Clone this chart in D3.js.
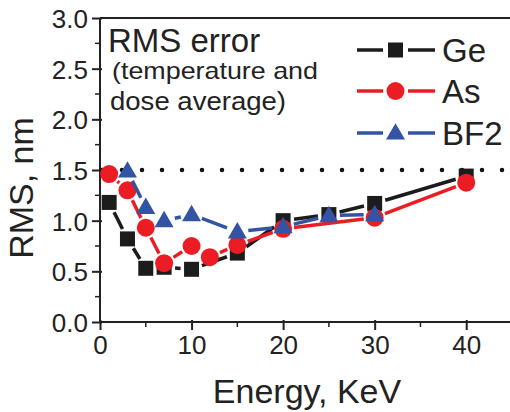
<!DOCTYPE html>
<html>
<head>
<meta charset="utf-8">
<script src="https://cdn.jsdelivr.net/npm/d3@7"></script>
<style>
  body { margin: 0; background: #fff; }
  text { font-family: "Liberation Sans", Arial, sans-serif; fill: #222; }
</style>
</head>
<body>
<div id="chart"></div>
<script>
var svgWidth = 510;
var svgHeight = 412;

// data
var energyGe = [1, 3, 5, 7, 10, 15, 20, 25, 30, 40];
var rmsGe = [1.18, 0.82, 0.53, 0.54, 0.52, 0.68, 1.0, 1.06, 1.17, 1.44];
var energyAs = [1, 3, 5, 7, 10, 12, 15, 20, 30, 40];
var rmsAs = [1.46, 1.30, 0.93, 0.58, 0.75, 0.64, 0.76, 0.92, 1.03, 1.375];
var energyBF2 = [3, 5, 7, 10, 15, 20, 25, 30];
var rmsBF2 = [1.49, 1.13, 1.0, 1.06, 0.89, 0.94, 1.05, 1.06];
var limitRms = 1.5;

var xTicks = [0, 10, 20, 30, 40];
var xMinor = [5, 15, 25, 35];
var yTicks = [0, 0.5, 1.0, 1.5, 2.0, 2.5, 3.0];
var yMinor = [0.25, 0.75, 1.25, 1.75, 2.25, 2.75];

var seriesNames = ["Ge", "As", "BF2"];
var colors = { Ge: "#1c1c1c", As: "#ec1c24", BF2: "#3353a3" };
var shapes = { Ge: "square", As: "circle", BF2: "triangle" };

var margin = { top: 18, right: 0, bottom: 90, left: 100 };

var svg = d3.select("#chart").append("svg")
  .attr("width", svgWidth)
  .attr("height", svgHeight);

var x = d3.scaleLinear().domain([0, 45]).range([margin.left, 512]);
var y = d3.scaleLinear().domain([0, 3]).range([svgHeight - margin.bottom, margin.top]);

var axisColor = "#222";

// bottom axis
var xAxis = svg.append("g")
  .attr("transform", `translate(0, ${y(0)})`)
  .call(d3.axisBottom(x).tickValues(xTicks).tickSize(8).tickFormat(d3.format("d")));
xAxis.select(".domain").attr("stroke", axisColor).attr("stroke-width", 2).attr("d", `M${x(0)},0H510`);
xAxis.selectAll(".tick line").attr("stroke", axisColor).attr("stroke-width", 2).attr("y1", -2);
xAxis.selectAll(".tick text").attr("font-size", 26).attr("dy", 0).attr("y", 32)
  .attr("font-family", "Liberation Sans, Arial, sans-serif").attr("fill", "#222");
svg.append("g").selectAll("line").data(xMinor).enter().append("line")
  .attr("x1", d => x(d)).attr("x2", d => x(d))
  .attr("y1", y(0)).attr("y2", y(0) + 5)
  .attr("stroke", axisColor).attr("stroke-width", 1.5);

// left axis
var yAxis = svg.append("g")
  .attr("transform", `translate(${x(0)}, 0)`)
  .call(d3.axisLeft(y).tickValues(yTicks).tickSize(8).tickFormat(d3.format(".1f")));
yAxis.select(".domain").attr("stroke", axisColor).attr("stroke-width", 2).attr("d", `M0,${y(0) + 1}V${y(3)}`);
yAxis.selectAll(".tick line").attr("stroke", axisColor).attr("stroke-width", 2).attr("x1", 2);
yAxis.selectAll(".tick text").attr("font-size", 26).attr("x", -12).attr("dy", "0.36em")
  .attr("font-family", "Liberation Sans, Arial, sans-serif").attr("fill", "#222");
svg.append("g").selectAll("line").data(yMinor).enter().append("line")
  .attr("x1", x(0) - 5).attr("x2", x(0))
  .attr("y1", d => y(d)).attr("y2", d => y(d))
  .attr("stroke", axisColor).attr("stroke-width", 1.5);

// top frame line
svg.append("line")
  .attr("x1", x(0)).attr("x2", 510)
  .attr("y1", y(3)).attr("y2", y(3))
  .attr("stroke", axisColor).attr("stroke-width", 2);

// axis titles
svg.append("text")
  .attr("x", 307).attr("y", 403)
  .attr("text-anchor", "middle")
  .attr("font-size", 34)
  .text("Energy, KeV");

svg.append("text")
  .attr("transform", "translate(33, 188) rotate(-90)")
  .attr("text-anchor", "middle")
  .attr("font-size", 34)
  .text("RMS, nm");

// dotted 1.5 nm line
svg.append("line")
  .attr("x1", x(0) + 2).attr("x2", x(45))
  .attr("y1", y(limitRms)).attr("y2", y(limitRms))
  .attr("stroke", "#111").attr("stroke-width", 4.5)
  .attr("stroke-linecap", "round")
  .attr("stroke-dasharray", "0 20");

// annotation
svg.append("text").attr("x", 108).attr("y", 52).attr("font-size", 33).text("RMS error");
svg.append("text").attr("x", 112).attr("y", 79).attr("font-size", 24)
  .attr("textLength", 206).attr("lengthAdjust", "spacingAndGlyphs")
  .text("(temperature and");
svg.append("text").attr("x", 110).attr("y", 110).attr("font-size", 25)
  .attr("textLength", 176).attr("lengthAdjust", "spacingAndGlyphs")
  .text("dose average)");

// marker helper
function drawMarker(g, shape, cx, cy, color) {
  if (shape === "square") {
    g.append("rect")
      .attr("x", cx - 7.5).attr("y", cy - 7.5)
      .attr("width", 15).attr("height", 15)
      .attr("fill", color);
  } else if (shape === "circle") {
    g.append("circle")
      .attr("cx", cx).attr("cy", cy).attr("r", 9)
      .attr("fill", color);
  } else {
    var s = 19;
    var h = s * Math.sqrt(3) / 2;
    g.append("path")
      .attr("d", `M${cx},${cy - h * 0.6}L${cx + s / 2},${cy + h * 0.4}L${cx - s / 2},${cy + h * 0.4}Z`)
      .attr("fill", color);
  }
}

// line segments with a gap around each marker
function drawSeries(name, xs, ys) {
  var color = colors[name];
  var g = svg.append("g");
  var pts = xs.map((d, i) => [x(d), y(ys[i])]);
  var gap = 11;
  for (var i = 0; i < pts.length - 1; i++) {
    var p1 = pts[i], p2 = pts[i + 1];
    var dx = p2[0] - p1[0], dy = p2[1] - p1[1];
    var len = Math.sqrt(dx * dx + dy * dy);
    if (len <= gap * 2 + 2) continue;
    var ux = dx / len, uy = dy / len;
    g.append("line")
      .attr("x1", p1[0] + ux * gap).attr("y1", p1[1] + uy * gap)
      .attr("x2", p2[0] - ux * gap).attr("y2", p2[1] - uy * gap)
      .attr("stroke", color).attr("stroke-width", 3.5);
  }
  pts.forEach(p => drawMarker(g, shapes[name], p[0], p[1], color));
}

drawSeries("Ge", energyGe, rmsGe);
drawSeries("As", energyAs, rmsAs);
drawSeries("BF2", energyBF2, rmsBF2);

// legend
var legendY = [50, 91, 133];
seriesNames.forEach(function(name, i) {
  var g = svg.append("g");
  var ly = legendY[i];
  g.append("line").attr("x1", 357).attr("x2", 383).attr("y1", ly).attr("y2", ly)
    .attr("stroke", colors[name]).attr("stroke-width", 3.5);
  g.append("line").attr("x1", 408).attr("x2", 435).attr("y1", ly).attr("y2", ly)
    .attr("stroke", colors[name]).attr("stroke-width", 3.5);
  drawMarker(g, shapes[name], 395.5, ly, colors[name]);
  g.append("text").attr("x", 442).attr("y", ly + 12).attr("font-size", 33).text(name);
});
</script>
</body>
</html>
